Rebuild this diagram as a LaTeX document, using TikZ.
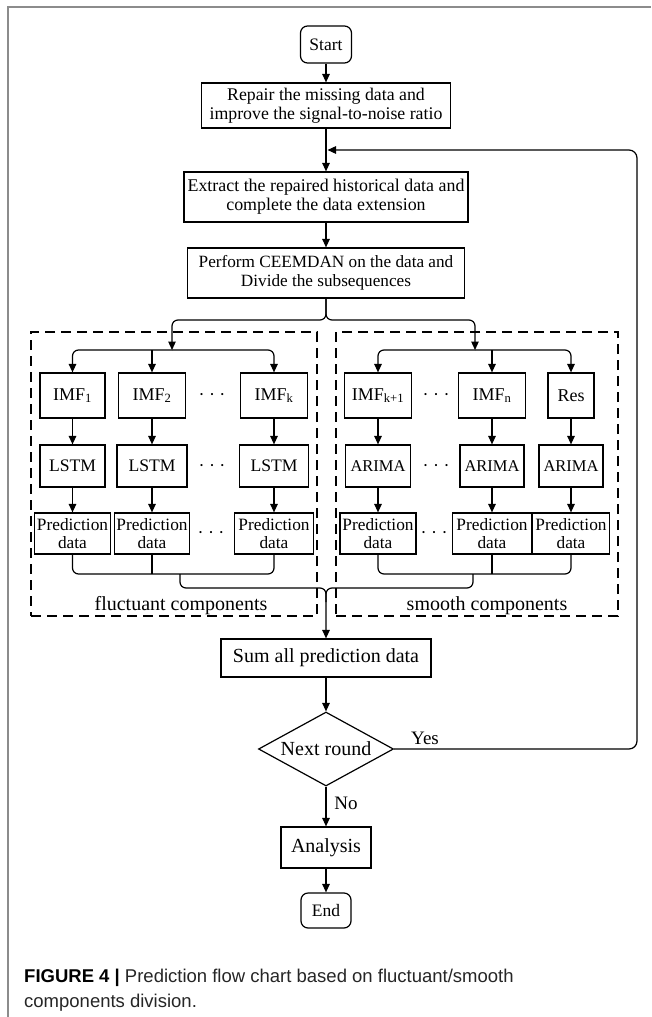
\documentclass[tikz,border=0pt]{standalone}
\usepackage{fontspec}
\setmainfont{Liberation Serif}
\newfontfamily\capfont{Liberation Sans}
\usetikzlibrary{arrows.meta,shapes.geometric}
\newcommand\fsz[2]{\fontsize{#1pt}{#2pt}\selectfont}
\begin{document}
\begin{tikzpicture}[x=1pt,y=-1pt,
  box/.style={draw, line width=1.2pt, inner sep=0pt, align=center},
  term/.style={box, rounded corners=7pt},
  arr/.style={line width=1.2pt, -{Triangle[length=8.5pt,width=7.5pt]}},
  conn/.style={line width=1.2pt},
  rc/.style={rounded corners=6pt},
  dbox/.style={draw, line width=1.3pt, dash pattern=on 10pt off 6pt, inner sep=0pt},
  dia/.style={draw, line width=1.2pt, shape=diamond, inner sep=0pt, aspect=1.82, minimum width=135pt, minimum height=74pt},
  framel/.style={draw=black!45, line width=1.6pt},
  lbl/.style={inner sep=0pt},
  imfb/.style={box, minimum height=45pt, font=\fsz{18}{19}},
  lstmb/.style={box, minimum height=42pt, font=\fsz{17.6}{19}},
  arimab/.style={box, minimum height=42pt, font=\fsz{16.5}{19}},
  predb/.style={box, minimum height=41pt, font=\fsz{17.3}{18.5}},
  dots/.style={inner sep=0pt, anchor=base, font=\fsz{18}{18}}
]
\useasboundingbox (0,0) rectangle (651,1017);
\fill[white] (0,0) rectangle (651,1017);
\draw[framel] (8,1017) -- (8,7) -- (651,7);

% main column
\node[term, minimum width=51pt, minimum height=37pt, font=\fsz{17.5}{19}] (start) at (326,44.5) {Start};
\node[box, minimum width=249pt, minimum height=45pt, font=\fsz{17.8}{19}] (repair) at (326,105.5) {Repair the missing data and\\improve the signal-to-noise ratio};
\node[box, minimum width=284pt, minimum height=50pt, font=\fsz{17.9}{19}] (extract) at (326,197) {Extract the repaired historical data and\\complete the data extension};
\node[box, minimum width=277pt, minimum height=50pt, font=\fsz{17.2}{18.5}] (perform) at (326,273) {Perform CEEMDAN on the data and\\Divide the subsequences};

% dashed groups
\node[dbox, minimum width=286pt, minimum height=284pt] (fluct) at (174,474) {};
\node[dbox, minimum width=282pt, minimum height=284pt] (smooth) at (477,474) {};
\node[lbl, anchor=base, font=\fsz{20}{20}] (fluctlbl) at (181,610) {fluctuant components};
\node[lbl, anchor=base, font=\fsz{20}{20}] (smoothlbl) at (487,610) {smooth components};

% IMF row
\node[imfb, minimum width=65pt] (imf1) at (72.5,395.5) {IMF\textsubscript{1}};
\node[imfb, minimum width=67pt] (imf2) at (152,395.5) {IMF\textsubscript{2}};
\node[imfb, minimum width=67pt] (imfk) at (274,395.5) {IMF\textsubscript{k}};
\node[imfb, minimum width=67pt] (imfk1) at (378,395.5) {IMF\textsubscript{k+1}};
\node[imfb, minimum width=67pt] (imfn) at (492,395.5) {IMF\textsubscript{n}};
\node[imfb, minimum width=46pt] (res) at (571,395.5) {Res};

% model row
\node[lstmb, minimum width=65pt] (lstm1) at (72.5,466) {LSTM};
\node[lstmb, minimum width=70pt] (lstm2) at (152,466) {LSTM};
\node[lstmb, minimum width=69pt] (lstmk) at (274,466) {LSTM};
\node[arimab, minimum width=65pt] (arima1) at (378,466) {ARIMA};
\node[arimab, minimum width=64pt] (arima2) at (492,466) {ARIMA};
\node[arimab, minimum width=64pt] (arima3) at (571,466) {ARIMA};

% prediction row
\node[predb, minimum width=76pt] (pred1) at (72.5,533.5) {Prediction\\data};
\node[predb, minimum width=75pt] (pred2) at (152,533.5) {Prediction\\data};
\node[predb, minimum width=79pt] (predk) at (274,533.5) {Prediction\\data};
\node[predb, minimum width=76pt] (predk1) at (378,533.5) {Prediction\\data};
\node[predb, minimum width=79pt] (predn) at (492,533.5) {Prediction\\data};
\node[predb, minimum width=77pt] (predr) at (571,533.5) {Prediction\\data};

% dots
\node[dots] (d1) at (212,400.5) {· · ·};
\node[dots] (d2) at (212,471) {· · ·};
\node[dots] (d3) at (211,538.5) {· · ·};
\node[dots] (d4) at (436,400.5) {· · ·};
\node[dots] (d5) at (436,471) {· · ·};
\node[dots] (d6) at (434,538.5) {· · ·};

% lower column
\node[box, minimum width=210pt, minimum height=38pt, font=\fsz{20}{20}] (sum) at (326,658) {Sum all prediction data};
\node[dia, font=\fsz{20}{20}] (next) at (326,749) {Next round};
\node[box, minimum width=90pt, minimum height=41pt, font=\fsz{20}{20}] (analysis) at (326,847.5) {Analysis};
\node[term, minimum width=50pt, minimum height=35pt, font=\fsz{17.5}{19}] (endn) at (326,910.5) {End};
\node[lbl, font=\fsz{19}{19}] (yes) at (425,738) {Yes};
\node[lbl, font=\fsz{19}{19}] (no) at (346,803) {No};

% caption
\node[lbl, anchor=base west, font=\capfont\fsz{18.5}{25}] (cap1) at (24,982) {\textbf{FIGURE 4 |} \color{black!85}Prediction flow chart based on fluctuant/smooth};
\node[lbl, anchor=base west, font=\capfont\fsz{18.5}{25}, text=black!85] (cap2) at (24,1007) {components division.};

% coordinates
\coordinate (split) at (326,320);
\coordinate (lbar) at (172,350);
\coordinate (rbar) at (475,350);
\coordinate (lb) at (175,574);
\coordinate (rb) at (475,574);
\coordinate (ld) at (180,574);
\coordinate (rd) at (473,574);
\coordinate (mrg) at (326,588);
\coordinate (loopx) at (637,749);
\coordinate (loopin) at (327.5,150);

% main connectors
\draw[arr] (start) -- (repair);
\draw[arr] (repair) -- (extract);
\draw[arr] (extract) -- (perform);
\draw[arr, rc] (perform) -- (split) -| (lbar);
\draw[arr, rc] (perform) -- (split) -| (rbar);

% fan-out
\draw[arr, rc] (lbar) -| (imf1);
\draw[arr, rc] (lbar) -| (imfk);
\draw[arr] (lbar -| imf2) -- (imf2);
\draw[arr, rc] (rbar) -| (imfk1);
\draw[arr, rc] (rbar) -| (res);
\draw[arr] (rbar -| imfn) -- (imfn);

% columns
\draw[arr] (imf1) -- (lstm1);
\draw[arr] (imf2) -- (lstm2);
\draw[arr] (imfk) -- (lstmk);
\draw[arr] (imfk1) -- (arima1);
\draw[arr] (imfn) -- (arima2);
\draw[arr] (res) -- (arima3);
\draw[arr] (lstm1) -- (pred1);
\draw[arr] (lstm2) -- (pred2);
\draw[arr] (lstmk) -- (predk);
\draw[arr] (arima1) -- (predk1);
\draw[arr] (arima2) -- (predn);
\draw[arr] (arima3) -- (predr);

% merges
\draw[conn, rc] (pred1) |- (lb) -| (predk);
\draw[conn] (pred2) -- (pred2 |- lb);
\draw[conn, rc] (predk1) |- (rb) -| (predr);
\draw[conn] (predn) -- (predn |- rb);
\draw[arr, rc] (ld) |- (mrg) -- (sum);
\draw[conn, rc] (rd) |- (mrg) -- ++(0,14);

% lower flow
\draw[arr] (sum) -- (next);
\draw[arr] (next) -- (analysis);
\draw[arr] (analysis) -- (endn);
\draw[arr, rounded corners=8pt] (next.east) -- (loopx) |- (loopin);
\end{tikzpicture}
\end{document}
